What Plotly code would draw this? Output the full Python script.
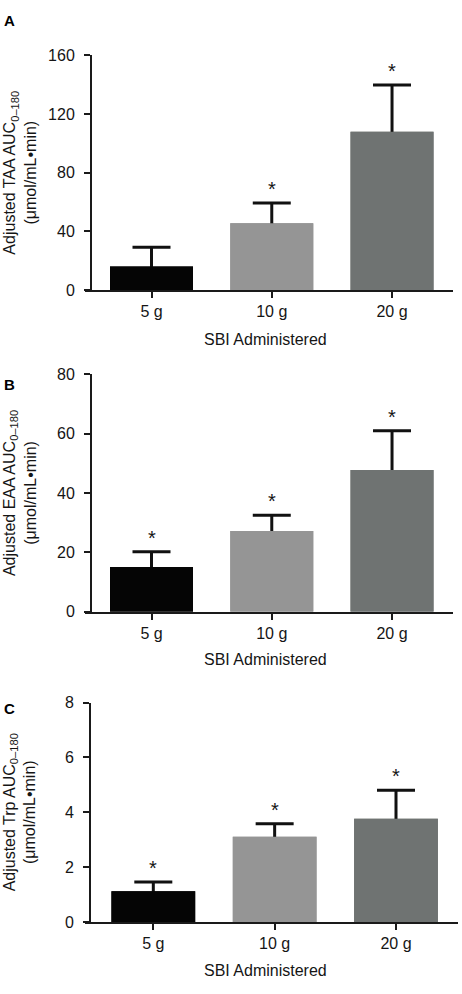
import plotly.graph_objects as go

# ---- data ----
doses = ["5 g", "10 g", "20 g"]
bar_colors = ["#050505", "#959595", "#6f7372"]

taa_mean = [16.0, 45.5, 107.8]
taa_sem = [13.2, 13.9, 31.9]
taa_sig = [False, True, True]

eaa_mean = [15.1, 27.2, 47.8]
eaa_sem = [5.1, 5.3, 13.2]
eaa_sig = [True, True, True]

trp_mean = [1.12, 3.11, 3.77]
trp_sem = [0.34, 0.47, 1.04]
trp_sig = [True, True, True]

panels = [
    dict(letter="A", mean=taa_mean, sem=taa_sem, sig=taa_sig, ymax=160, dtick=40,
         ytitle="Adjusted TAA AUC<sub>0–180</sub><br>(μmol/mL•min)"),
    dict(letter="B", mean=eaa_mean, sem=eaa_sem, sig=eaa_sig, ymax=80, dtick=20,
         ytitle="Adjusted EAA AUC<sub>0–180</sub><br>(μmol/mL•min)"),
    dict(letter="C", mean=trp_mean, sem=trp_sem, sig=trp_sig, ymax=8, dtick=2,
         ytitle="Adjusted Trp AUC<sub>0–180</sub><br>(μmol/mL•min)"),
]

# ---- layout geometry (pixels) ----
W, H = 462, 994
geom = [
    dict(x0=85, x1=453, yaxis_x=91, ytop=48, ybot=287, xr=[-0.553, 2.507], xt_y=337, let_y=13),
    dict(x0=85, x1=453, yaxis_x=91, ytop=372.7, ybot=614.3, xr=[-0.553, 2.507], xt_y=663, let_y=383),
    dict(x0=85, x1=458, yaxis_x=90, ytop=706.7, ybot=930, xr=[-0.563, 2.511], xt_y=979, let_y=713),
]

FONT = "Liberation Sans, Arial, sans-serif"
AXC = "#1a1a1a"
TXT = "#151515"
FS = 16

fig = go.Figure()
annotations = []
layout = {}

for i, (p, g) in enumerate(zip(panels, geom)):
    n = "" if i == 0 else str(i + 1)
    xa, ya = "x" + n, "y" + n
    # bars carrying the error bars; an identical overlay hides the lower half
    fig.add_trace(go.Bar(
        x=doses, y=p["mean"], xaxis=xa, yaxis=ya, width=0.69,
        marker=dict(color=bar_colors, line=dict(width=0)),
        error_y=dict(type="data", array=p["sem"], visible=True, color="#111111",
                     thickness=3, width=19),
        showlegend=False, hoverinfo="skip"))
    fig.add_trace(go.Bar(
        x=doses, y=p["mean"], xaxis=xa, yaxis=ya, width=0.69,
        marker=dict(color=bar_colors, line=dict(width=0)),
        showlegend=False, hoverinfo="skip"))

    layout["xaxis" + n] = dict(
        domain=[g["x0"] / W, g["x1"] / W], anchor=ya, range=g["xr"],
        type="category", showline=True, linecolor=AXC, linewidth=2,
        ticks="outside", ticklen=6, tickwidth=2, tickcolor=AXC,
        tickfont=dict(size=FS, color=TXT, family=FONT),
        showgrid=False, zeroline=False, fixedrange=True)
    layout["yaxis" + n] = dict(
        domain=[1 - g["ybot"] / H, 1 - g["ytop"] / H], anchor="free",
        position=g["yaxis_x"] / W, range=[0, p["ymax"]],
        tick0=0, dtick=p["dtick"], showline=True, linecolor=AXC, linewidth=2,
        ticks="outside", ticklen=6, tickwidth=2, tickcolor=AXC,
        ticklabelstandoff=6,
        tickfont=dict(size=FS, color=TXT, family=FONT),
        showgrid=False, zeroline=False, fixedrange=True)

    # significance stars above the error bars
    for d, m, s, sig in zip(doses, p["mean"], p["sem"], p["sig"]):
        if sig:
            annotations.append(dict(
                x=d, y=m + s, xref=xa, yref=ya, text="*", showarrow=False,
                yanchor="middle", yshift=14,
                font=dict(size=20, color=TXT, family=FONT)))

    # y-axis title
    yc = 1 - (g["ytop"] + g["ybot"]) / 2 / H
    annotations.append(dict(
        x=20 / W, y=yc, xref="paper", yref="paper", text=p["ytitle"],
        textangle=-90, showarrow=False, xanchor="center", yanchor="middle",
        font=dict(size=FS, color=TXT, family=FONT)))
    # x-axis title
    annotations.append(dict(
        x=265 / W, y=1 - g["xt_y"] / H, xref="paper", yref="paper",
        text="SBI Administered", showarrow=False, xanchor="center", yanchor="middle",
        font=dict(size=FS, color=TXT, family=FONT)))
    # panel letter
    annotations.append(dict(
        x=2 / W, y=1 - g["let_y"] / H, xref="paper", yref="paper",
        text="<b>" + p["letter"] + "</b>", showarrow=False, xanchor="left", yanchor="middle",
        font=dict(size=15, color="#000000", family=FONT)))

fig.update_layout(
    width=W, height=H, margin=dict(l=0, r=0, t=0, b=0),
    paper_bgcolor="white", plot_bgcolor="white",
    barmode="overlay", showlegend=False,
    annotations=annotations, **layout)

fig.write_html("out.html")
